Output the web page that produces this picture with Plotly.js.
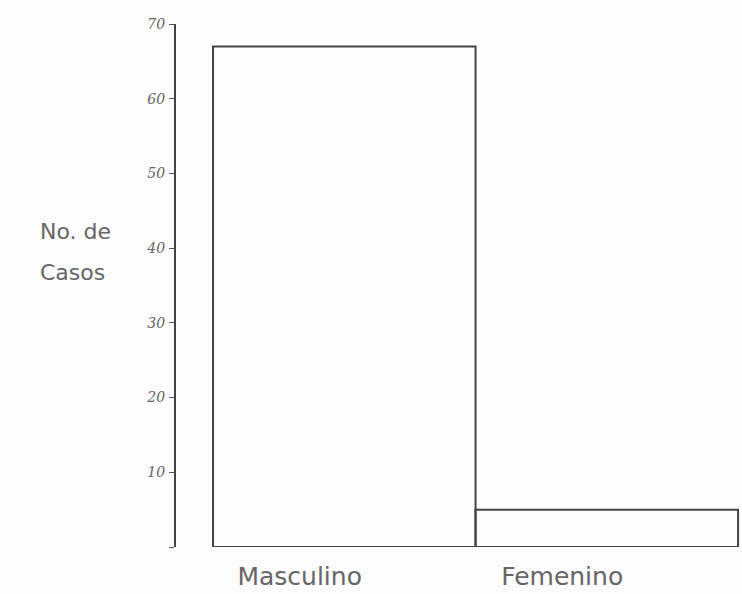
<!DOCTYPE html>
<html><head><meta charset="utf-8">
<script src="https://cdn.plot.ly/plotly-3.0.1.min.js"></script>
<style>body{margin:0;background:#fcfcfc}</style>
</head><body>
<div id="chart" style="width:742px;height:594px"></div>
<script>
const categories = ["Masculino", "Femenino"];
const casos = [67, 5];
const yTicks = [0, 10, 20, 30, 40, 50, 60, 70];
const yTickLabels = ["", "10", "20", "30", "40", "50", "60", "70"];
const yTitleLines = ["No. de", "Casos"];

const idx = categories.map((c, i) => i);
const labelShift = -0.17;

const trace = {
  type: "bar",
  x: idx,
  y: casos,
  width: 1,
  marker: {color: "rgba(0,0,0,0)", line: {color: "#444", width: 2}},
  hoverinfo: "skip"
};

const layout = {
  width: 742, height: 594,
  margin: {l: 176, r: 0, t: 24, b: 47},
  paper_bgcolor: "#fcfcfc",
  plot_bgcolor: "#fcfcfc",
  showlegend: false,
  xaxis: {
    range: [-0.641, 1.515],
    showline: false, showgrid: false, zeroline: false,
    tickvals: idx.map(i => i + labelShift),
    ticktext: categories,
    ticks: "",
    tickfont: {family: "'DejaVu Sans', sans-serif", size: 25, color: "#666"},
    ticklabelstandoff: 12
  },
  yaxis: {
    range: [0, 70],
    showline: true, linecolor: "#444", linewidth: 2,
    showgrid: false, zeroline: false,
    tickvals: yTicks, ticktext: yTickLabels,
    ticks: "outside", ticklen: 5, tickcolor: "#555", tickwidth: 1,
    tickfont: {family: "'DejaVu Serif', serif", size: 14, color: "#666", style: "italic"},
    ticklabelstandoff: 1
  },
  annotations: yTitleLines.map((t, i) => ({
    text: t,
    xref: "paper", yref: "paper",
    x: -0.243, y: 0.604 - i * 0.08, xanchor: "left", yanchor: "middle",
    showarrow: false,
    font: {family: "'DejaVu Sans', sans-serif", size: 22, color: "#666"}
  }))
};

Plotly.newPlot("chart", [trace], layout, {displayModeBar: false, staticPlot: true});
</script>
</body></html>
